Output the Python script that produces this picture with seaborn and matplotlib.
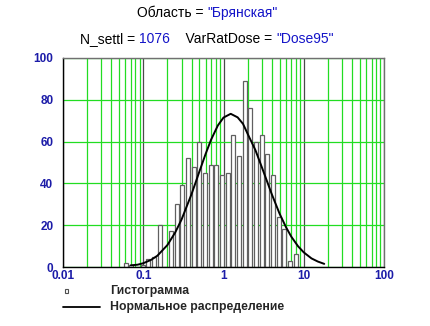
import numpy as np
import pandas as pd
import matplotlib
matplotlib.use("Agg")
import matplotlib.pyplot as plt
from matplotlib.lines import Line2D
from matplotlib.patches import Rectangle
from matplotlib.ticker import LogLocator, FixedLocator, NullFormatter
import seaborn as sns

# histogram: bin centres (log-spaced) and counts
bin_mid = [0.0601, 0.0708, 0.0833, 0.0981, 0.1153, 0.1358, 0.1597, 0.188,
           0.2213, 0.260, 0.306, 0.3605, 0.424, 0.499, 0.5875, 0.691,
           0.8136, 0.957, 1.126, 1.325, 1.559, 1.835, 2.16, 2.54, 2.99,
           3.52, 4.14, 4.87, 5.73, 6.74, 7.94]
counts = [2, 1, 0, 1, 4, 5, 20, 0, 17, 30, 39, 52, 48, 60, 45, 49,
          49, 44, 45, 63, 53, 89, 76, 60, 63, 54, 44, 24, 18, 3, 6]
log_range = (-1.2564, 0.9354)   # bin range in log10 units

# fitted normal curve
curve_x = [0.07, 0.085, 0.1, 0.125, 0.15, 0.2, 0.25, 0.3, 0.4, 0.5, 0.6,
           0.7, 0.85, 1.0, 1.23, 1.5, 1.75, 2.0, 2.5, 3.0, 4.0, 5.0, 6.0,
           7.0, 8.5, 10, 12.5, 15, 18]
curve_y = [0.8, 1.1, 1.8, 3.4, 5.4, 10.5, 16.5, 22.7, 34.9, 45.6, 54.2,
           60.9, 67.7, 71.5, 73.3, 71.6, 68.5, 63.7, 55.9, 47.8, 34.8, 25.5,
           19.1, 14.5, 9.9, 7.0, 4.1, 2.6, 1.5]

x_ticks = [0.01, 0.1, 1, 10, 100]
x_labels = ["0.01", "0.1", "1", "10", "100"]
y_ticks = [0, 20, 40, 60, 80, 100]

region = "Брянская"
n_settl = "1076"
var_dose = "Dose95"

sns.set_style("white")
plt.rcParams['font.family'] = ['Liberation Sans', 'DejaVu Sans']

tick_blue = '#1c1ca8'
val_blue = '#1414c8'
green = '#22dd22'

fig = plt.figure(figsize=(4.30, 3.26), dpi=100)
ax = fig.add_axes([63 / 430, 1 - 267 / 326, 321 / 430, 209 / 326])

hist_df = pd.DataFrame({"x": bin_mid, "w": counts})
sns.histplot(data=hist_df, x="x", weights="w", bins=len(bin_mid),
             binrange=log_range, log_scale=True, shrink=0.7,
             element="bars", fill=True, alpha=1, facecolor="white",
             edgecolor="#606060", linewidth=0.9, ax=ax, zorder=2)

curve_df = pd.DataFrame({"x": curve_x, "y": curve_y})
sns.lineplot(data=curve_df, x="x", y="y", color="black", linewidth=1.4,
             ax=ax, zorder=3)

ax.set_xscale("log")
ax.set_xlim(0.01, 100)
ax.set_ylim(0, 100)
ax.xaxis.set_major_locator(FixedLocator(x_ticks))
ax.set_xticklabels(x_labels)
ax.xaxis.set_minor_locator(LogLocator(base=10, subs=np.arange(2, 10)))
ax.xaxis.set_minor_formatter(NullFormatter())
ax.set_yticks(y_ticks)
ax.set_yticklabels([str(v) for v in y_ticks])

ax.set_axisbelow(True)
ax.grid(False)
ax.grid(which="minor", axis="x", color=green, linewidth=0.9)
ax.grid(which="major", axis="x", color="#4a4a4a", linewidth=0.9)
ax.grid(which="major", axis="y", color=green, linewidth=0.9)

ax.set_xlabel("")
ax.set_ylabel("")
ax.tick_params(axis="both", which="both", length=0, labelsize=8.5,
               labelcolor=tick_blue)
ax.tick_params(axis="x", pad=2.5)
ax.tick_params(axis="y", pad=7)
for lab in ax.get_xticklabels() + ax.get_yticklabels():
    lab.set_fontweight("bold")

for side in ["left", "bottom"]:
    ax.spines[side].set_color("black")
    ax.spines[side].set_linewidth(1.0)
for side in ["top", "right"]:
    ax.spines[side].set_color("#707070")
    ax.spines[side].set_linewidth(1.0)

# title lines, mixed colours
def colored_line(parts, y):
    r = fig.canvas.get_renderer()
    texts = []
    total = 0
    for s, c in parts:
        t = fig.text(0, y, s, color=c, fontsize=10, va="center", ha="left")
        w = t.get_window_extent(renderer=r).width
        texts.append((t, w))
        total += w
    x = (fig.bbox.width - total) / 2 - 8
    for t, w in texts:
        t.set_x(x / fig.bbox.width)
        x += w

colored_line([("Область = ", "black"), ('"' + region + '"', val_blue)],
             1 - 13 / 326)
colored_line([("N_settl = ", "black"), (n_settl, val_blue),
              ("    VarRatDose = ", "black"), ('"' + var_dose + '"', val_blue)],
             1 - 39 / 326)

# legend
fig.add_artist(Rectangle((65 / 430, 1 - 293 / 326), 3 / 430, 4 / 326,
                         facecolor="white", edgecolor="#505050",
                         linewidth=0.8))
fig.text(110 / 430, 1 - 291 / 326, "Гистограмма", fontsize=8.8,
         fontweight="bold", va="center", ha="left")
fig.add_artist(Line2D([63 / 430, 100 / 430], [1 - 307 / 326, 1 - 307 / 326],
                      color="black", linewidth=1.3))
fig.text(110 / 430, 1 - 307 / 326, "Нормальное распределение", fontsize=8.8,
         fontweight="bold", va="center", ha="left")

fig.savefig("out.png", dpi=100)
